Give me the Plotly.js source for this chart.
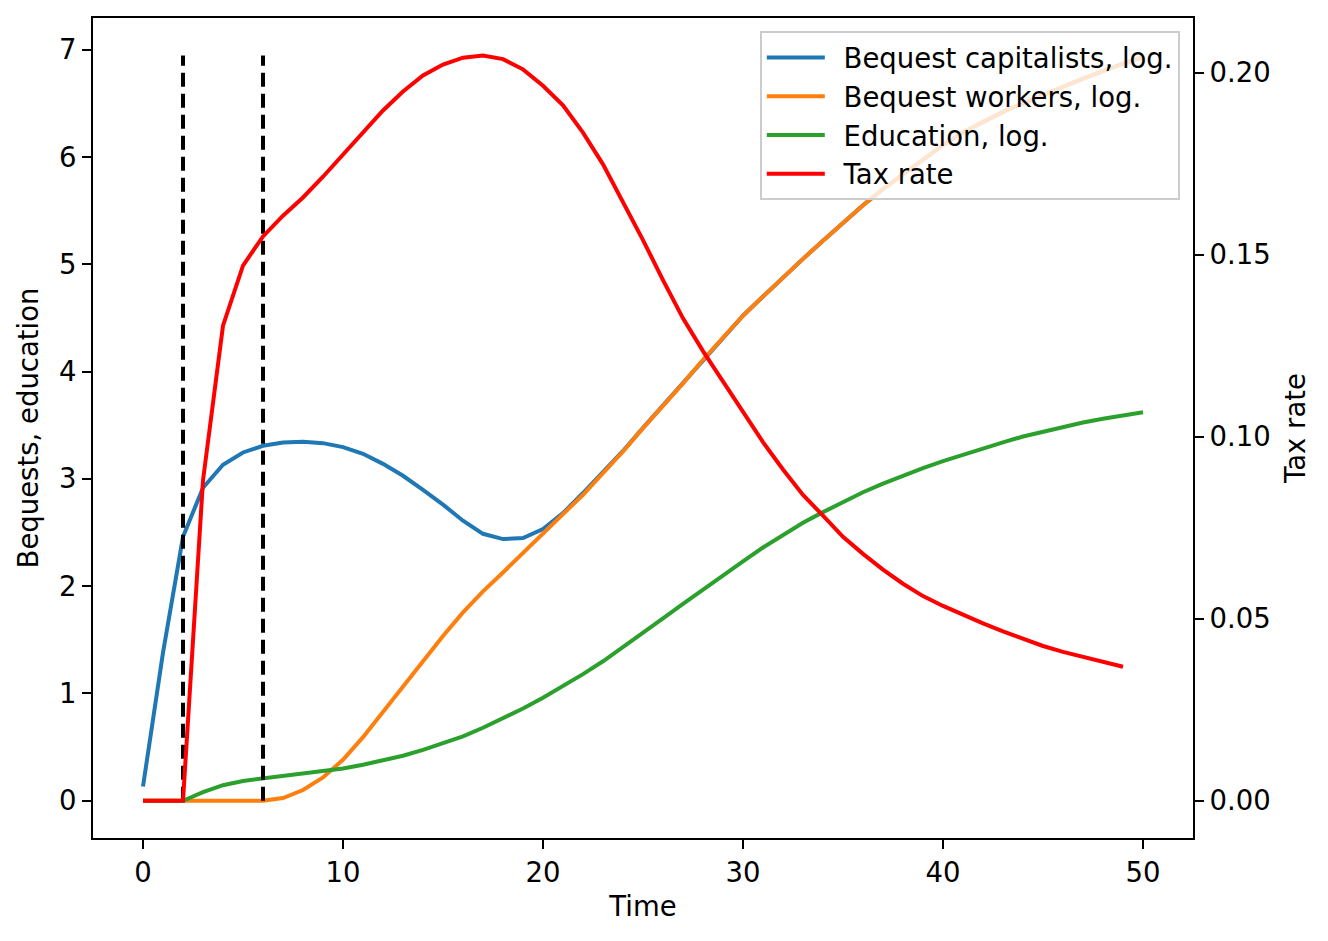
<!DOCTYPE html>
<html>
<head>
<meta charset="utf-8">
<script src="https://cdn.plot.ly/plotly-3.0.1.min.js"></script>
<style>
  html, body { margin: 0; padding: 0; background: #fff; }
  #chart { width: 1328px; height: 941px; }
</style>
</head>
<body>
<div id="chart"></div>
<script>
var time = [0,1,2,3,4,5,6,7,8,9,10,11,12,13,14,15,16,17,18,19,20,21,22,23,24,25,
            26,27,28,29,30,31,32,33,34,35,36,37,38,39,40,41,42,43,44,45,46,47,48,49,50];

var bequestCapitalists = [0.133,1.38,2.46,2.917,3.131,3.246,3.308,3.339,3.346,3.333,3.296,
    3.234,3.14,3.029,2.898,2.76,2.61,2.488,2.439,2.448,2.532,2.681,2.868,3.06,3.26,3.475,
    3.685,3.89,4.11,4.32,4.52,4.70,4.88,5.05,5.22,5.39,5.55,5.70,5.84,5.97,6.11,6.23,6.33,
    6.42,6.50,6.58,6.66,6.73,6.80,6.87,6.93];

var bequestWorkers = [0,0,0,0,0,0,0,0.025,0.10,0.217,0.382,0.593,0.832,1.07,1.30,1.535,
    1.755,1.951,2.128,2.308,2.479,2.665,2.852,3.054,3.255,3.473,3.68,3.89,4.11,4.32,4.52,
    4.70,4.88,5.05,5.22,5.39,5.55,5.70,5.84,5.97,6.11,6.23,6.33,6.42,6.50,6.58,6.66,6.73,
    6.80,6.87,6.93];

var education = [0,0,0,0.08,0.145,0.185,0.208,0.228,0.25,0.275,0.30,0.335,0.375,0.42,0.475,
    0.535,0.60,0.68,0.765,0.86,0.96,1.065,1.18,1.30,1.43,1.56,1.70,1.835,1.97,2.10,2.23,
    2.36,2.48,2.59,2.69,2.785,2.875,2.955,3.03,3.10,3.165,3.225,3.28,3.34,3.395,3.44,3.485,
    3.525,3.56,3.59,3.62];

var taxTime = [0,1,2,3,4,5,6,7,8,9,10,11,12,13,14,15,16,17,18,19,20,21,22,23,24,25,
               26,27,28,29,30,31,32,33,34,35,36,37,38,39,40,41,42,43,44,45,46,47,48,49];

var taxRate = [0,0,0,0.088,0.1305,0.147,0.155,0.1607,0.1657,0.1714,0.1775,0.1835,0.1896,
    0.1948,0.1992,0.2022,0.2041,0.2047,0.2037,0.2009,0.1964,0.191,0.1835,0.1748,0.1645,
    0.154,0.143,0.1325,0.1235,0.1152,0.1068,0.0985,0.091,0.084,0.0783,0.0725,0.0678,0.0635,
    0.0596,0.0562,0.0535,0.051,0.0487,0.0465,0.0444,0.0425,0.0409,0.0395,0.0381,0.0368];

var policyTimes = [2, 6];

var font = 'DejaVu Sans, sans-serif';
var fs = 27.5;
var taxMax = Math.max.apply(null, taxRate);

// en space so the legend text sits a bit away from the line sample
function line(x, y, name, color, axis) {
    return {
        x: x, y: y, name: '\u2002' + name, yaxis: axis, legendgroup: name,
        type: 'scatter', mode: 'lines',
        line: {color: color, width: 4}
    };
}

var data = [
    line(time, bequestCapitalists, 'Bequest capitalists, log.', '#1f77b4', 'y'),
    line(time, bequestWorkers, 'Bequest workers, log.', '#ff7f0e', 'y'),
    line(time, education, 'Education, log.', '#2ca02c', 'y')
];

policyTimes.forEach(function (t) {
    data.push({
        x: [t, t], y: [0, taxMax], yaxis: 'y2',
        type: 'scatter', mode: 'lines', showlegend: false, hoverinfo: 'skip',
        line: {color: '#000000', width: 4, dash: '14px,7px'}
    });
});

data.push(line(taxTime, taxRate, 'Tax rate', '#ff0000', 'y2'));

var axisBase = {
    showgrid: false, zeroline: false, showline: true,
    linecolor: '#000', linewidth: 2,
    ticks: 'outside', ticklen: 9, tickwidth: 2, tickcolor: '#000',
    tickfont: {family: font, size: fs, color: '#000'}
};

var layout = {
    width: 1328, height: 941,
    margin: {l: 93, r: 135, t: 18, b: 103},
    paper_bgcolor: '#fff', plot_bgcolor: '#fff',
    font: {family: font, color: '#000'},
    xaxis: Object.assign({}, axisBase, {
        range: [-2.5, 52.5], tickvals: [0, 10, 20, 30, 40, 50], mirror: true,
        title: {text: 'Time', font: {family: font, size: fs}, standoff: 10}
    }),
    yaxis: Object.assign({}, axisBase, {
        range: [-0.347, 7.295], tickvals: [0, 1, 2, 3, 4, 5, 6, 7],
        title: {text: 'Bequests, education', font: {family: font, size: fs}, standoff: 12}
    }),
    yaxis2: Object.assign({}, axisBase, {
        range: [-0.01024, 0.2150], overlaying: 'y', side: 'right',
        tickvals: [0, 0.05, 0.10, 0.15, 0.20], tickformat: '.2f',
        title: {text: 'Tax rate', font: {family: font, size: fs}, standoff: 16}
    }),
    legend: {
        x: 0.988, xanchor: 'right', y: 0.9841, yanchor: 'top',
        bgcolor: 'rgba(255,255,255,0.8)', bordercolor: '#cccccc', borderwidth: 2,
        font: {family: font, size: fs, color: '#000'},
        itemwidth: 58, tracegroupgap: 2, traceorder: 'normal'
    },
    showlegend: true
};

Plotly.newPlot('chart', data, layout, {displayModeBar: false, staticPlot: true});
</script>
</body>
</html>
